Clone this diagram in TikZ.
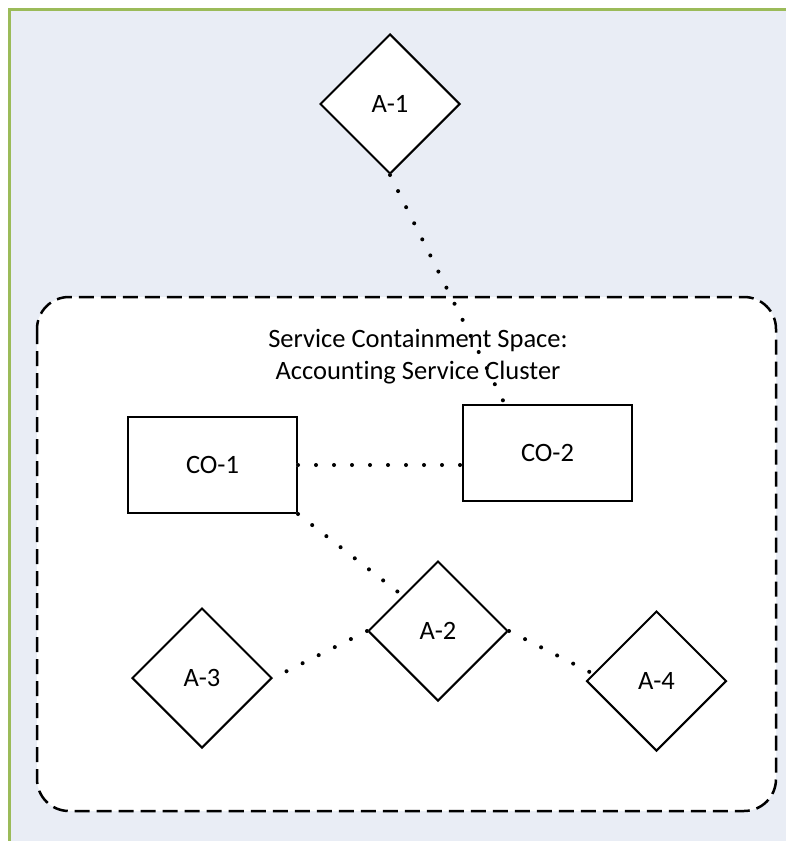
\documentclass[tikz,border=0pt]{standalone}
\usepackage{fontspec}
\setmainfont{Carlito}[Ligatures={NoCommon}]
\usetikzlibrary{shapes.geometric,calc}
\definecolor{bgblue}{RGB}{233,237,245}
\definecolor{frgreen}{RGB}{155,187,89}
\begin{document}
\begin{tikzpicture}[x=1pt,y=-1pt,
  lbl/.style={font=\fontsize{26.5}{32}\selectfont},
  dia/.style={diamond,draw=black,fill=white,line width=2pt,minimum width=140pt,minimum height=140pt,inner sep=0pt,aspect=1,lbl},
  cobox/.style={rectangle,draw=black,fill=white,line width=2pt,minimum width=169pt,minimum height=96pt,inner sep=0pt,lbl},
  dotline/.style={line width=4pt,line cap=round,dash pattern=on 0pt off 18pt,black},
  shadowline/.style={line width=4pt,line cap=round,dash pattern=on 0pt off 18pt,black!12}
]
\useasboundingbox (0,0) rectangle (786,841);
% background panel
\fill[bgblue] (9,9) rectangle (786,841);
\draw[frgreen,line width=3pt] (9,841) -- (9,9) -- (786,9);
% containment space
\draw[black,line width=2.5pt,dash pattern=on 15pt off 7pt,fill=white,rounded corners=32pt]
  (37,297) rectangle (776,811);
\node[lbl,align=center] (title) at (418,357) {Service Containment Space:\\Accounting Service Cluster};
% nodes
\node[dia] (A1) at (390,104) {A-1};
\node[cobox] (CO1) at (212.5,465) {CO-1};
\node[cobox] (CO2) at (547.5,453) {CO-2};
\node[dia] (A2) at (438,631) {A-2};
\node[dia] (A3) at (202,678) {A-3};
\node[dia] (A4) at (656.5,681) {A-4};
% connector end points
\coordinate (c2top) at ($(CO2.north west)!0.25!(CO2.north east)$);
\coordinate (c2left) at (CO1.east -| CO2.west);
\coordinate (a4in) at ($(A4.west)+(14,-4)$);
% shadows
\begin{scope}[shift={(1.5,1.5)}]
\draw[shadowline] (A1.south) -- (c2top);
\draw[shadowline] (CO1.east) -- (c2left);
\draw[shadowline] (CO1.south east) -- (A2.north west);
\draw[shadowline] (A2.west) -- (A3.east);
\draw[shadowline] (A2.east) -- (a4in);
\end{scope}
% connectors
\draw[dotline] (A1.south) -- (c2top);
\draw[dotline] (CO1.east) -- (c2left);
\draw[dotline] (CO1.south east) -- (A2.north west);
\draw[dotline] (A2.west) -- (A3.east);
\draw[dotline] (A2.east) -- (a4in);
\end{tikzpicture}
\end{document}
